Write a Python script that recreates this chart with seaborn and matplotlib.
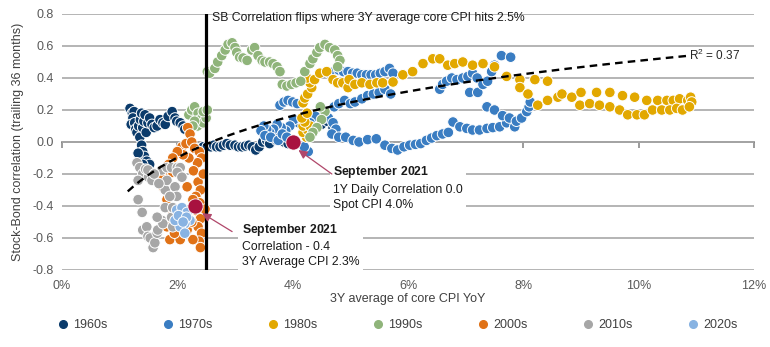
import numpy as np
import pandas as pd
import matplotlib
matplotlib.use("Agg")
import matplotlib.pyplot as plt
import seaborn as sns
from matplotlib.lines import Line2D

sns.set_theme(style="white")
plt.rcParams["font.family"] = ["Liberation Sans", "DejaVu Sans"]
plt.rcParams["mathtext.fontset"] = "custom"
plt.rcParams["mathtext.rm"] = "Liberation Sans"
plt.rcParams["mathtext.bf"] = "Liberation Sans:bold"

# ---- data: (3Y avg core CPI %, trailing 36m stock-bond correlation) ----
decades = ["1960s", "1970s", "1980s", "1990s", "2000s", "2010s", "2020s"]
decade_colors = ["#0b3b6b", "#3a7dc2", "#e2a800", "#8fb47a", "#e07217", "#a6a6a6", "#88b3e2"]

pts_1960s = [
    (1.18, 0.21), (1.22, 0.18), (1.25, 0.19), (1.23, 0.15), (1.20, 0.11), (1.26, 0.12),
    (1.28, 0.08), (1.30, 0.06), (1.33, 0.10), (1.35, 0.03), (1.36, 0.14), (1.38, 0.18),
    (1.40, 0.09), (1.42, 0.13), (1.44, 0.17), (1.46, 0.06), (1.49, 0.12), (1.52, 0.15),
    (1.56, 0.11), (1.60, 0.09), (1.65, 0.10), (1.70, 0.14), (1.75, 0.12), (1.79, 0.11),
    (1.84, 0.16), (1.91, 0.19), (1.96, 0.15), (1.99, 0.13), (2.05, 0.12), (2.10, 0.10),
    (2.13, 0.08), (1.38, -0.02), (1.40, -0.06), (1.35, -0.10), (1.43, -0.09), (1.47, -0.12),
    (1.52, -0.14), (1.40, -0.14), (1.32, -0.07), (2.45, -0.03), (2.52, -0.03), (2.58, -0.03),
    (2.63, -0.02), (2.68, -0.03), (2.74, -0.03), (2.80, -0.02), (2.86, -0.01), (2.92, -0.02),
    (3.00, -0.02), (3.06, -0.03), (3.12, -0.03), (3.18, -0.025), (3.24, -0.02), (3.30, -0.03),
    (3.36, -0.05), (3.42, -0.03), (3.48, 0.00), (3.55, 0.01), (3.60, -0.01), (3.66, 0.03),
    (3.72, 0.01), (3.78, 0.05), (3.85, 0.00), (3.92, -0.01), (4.50, 0.11), (4.60, 0.13),
    (4.70, 0.09),
]
pts_1970s = [
    (4.40, 0.16), (4.30, 0.12), (4.20, 0.09), (4.10, 0.12), (4.02, 0.14), (3.95, 0.10),
    (3.88, 0.07), (3.80, 0.09), (3.73, 0.11), (3.67, 0.08), (3.60, 0.06), (3.55, 0.08),
    (3.50, 0.10), (3.45, 0.07), (3.52, 0.04), (3.62, 0.03), (3.75, 0.01), (3.82, 0.05),
    (3.90, 0.03), (4.27, -0.06), (4.20, -0.03), (3.78, 0.23), (3.85, 0.25), (3.92, 0.26),
    (4.00, 0.25), (4.08, 0.24), (4.64, 0.43), (4.72, 0.44), (4.80, 0.45), (4.88, 0.44),
    (4.96, 0.44), (5.04, 0.43), (5.12, 0.43), (5.20, 0.42), (5.28, 0.42), (5.36, 0.42),
    (5.44, 0.42), (5.52, 0.43), (5.60, 0.44), (5.68, 0.46), (5.74, 0.43), (4.72, 0.22),
    (4.80, 0.24), (4.90, 0.26), (5.00, 0.24), (5.08, 0.25), (5.20, 0.27), (5.30, 0.29),
    (5.40, 0.30), (5.50, 0.31), (5.60, 0.33), (5.70, 0.30), (4.62, 0.15), (4.70, 0.12),
    (4.75, 0.08), (4.68, 0.05), (6.55, 0.33), (6.60, 0.36), (6.67, 0.38), (6.76, 0.40),
    (6.85, 0.39), (6.95, 0.40), (7.04, 0.41), (7.12, 0.43), (7.20, 0.40), (7.07, 0.31),
    (7.21, 0.31), (7.30, 0.36), (7.38, 0.38), (7.45, 0.44), (7.50, 0.48), (7.62, 0.54),
    (7.78, 0.53), (4.80, 0.03), (4.92, 0.03), (5.05, 0.01), (5.15, 0.00), (5.30, 0.015),
    (5.45, 0.02), (5.60, -0.02), (5.72, -0.04), (5.82, -0.05), (5.93, -0.03), (6.03, -0.02),
    (6.13, -0.015), (6.22, -0.01), (6.32, 0.01), (6.41, 0.025), (6.50, 0.04), (6.60, 0.05),
    (6.70, 0.06), (6.78, 0.125), (6.90, 0.095), (7.02, 0.085), (7.12, 0.075), (7.24, 0.075),
    (7.37, 0.085), (7.47, 0.09), (7.59, 0.095), (7.71, 0.12), (7.85, 0.095), (7.37, 0.22),
    (7.50, 0.20), (7.64, 0.165), (7.76, 0.15), (7.88, 0.13), (7.97, 0.15), (8.06, 0.19),
    (8.10, 0.22), (8.12, 0.25),
]
pts_1980s = [
    (4.24, 0.03), (4.18, 0.06), (4.26, 0.075), (4.18, 0.10), (4.30, 0.10), (4.21, 0.125),
    (4.16, 0.15), (4.25, 0.18), (4.18, 0.245), (4.21, 0.275), (4.26, 0.30), (4.33, 0.34),
    (4.30, 0.37), (4.25, 0.40), (4.38, 0.39), (4.47, 0.43), (4.59, 0.44), (4.70, 0.39),
    (4.78, 0.37), (4.87, 0.37), (4.96, 0.34), (4.98, 0.39), (5.08, 0.36), (5.20, 0.37),
    (5.34, 0.36), (5.46, 0.37), (5.56, 0.37), (5.74, 0.375), (5.91, 0.42), (6.08, 0.44),
    (6.26, 0.49), (6.43, 0.52), (6.55, 0.52), (6.69, 0.48), (6.81, 0.49), (6.95, 0.50),
    (7.12, 0.48), (7.30, 0.49), (7.50, 0.47), (7.71, 0.41), (7.94, 0.39), (7.94, 0.34),
    (8.08, 0.30), (8.25, 0.23), (8.42, 0.26), (8.20, 0.39), (8.42, 0.38), (8.60, 0.28),
    (8.67, 0.30), (8.84, 0.28), (9.00, 0.31), (9.27, 0.31), (9.50, 0.31), (9.72, 0.29),
    (9.93, 0.28), (10.14, 0.26), (10.33, 0.26), (10.49, 0.26), (10.60, 0.26), (10.71, 0.27),
    (10.85, 0.26), (10.90, 0.28), (10.92, 0.25), (8.98, 0.23), (9.15, 0.24), (9.32, 0.23),
    (9.50, 0.22), (9.67, 0.20), (9.81, 0.17), (9.97, 0.17), (10.10, 0.17), (10.24, 0.20),
    (10.40, 0.20), (10.54, 0.20), (10.66, 0.21), (10.76, 0.20), (10.88, 0.22),
]
pts_1990s = [
    (2.20, 0.17), (2.25, 0.20), (2.30, 0.22), (2.36, 0.18), (2.40, 0.14), (2.35, 0.10),
    (2.45, 0.12), (2.50, 0.15), (2.45, 0.19), (2.30, 0.13), (2.27, 0.10), (2.52, 0.20),
    (2.52, 0.44), (2.56, 0.43), (2.65, 0.46), (2.70, 0.50), (2.77, 0.54), (2.83, 0.575),
    (2.88, 0.61), (2.95, 0.62), (3.00, 0.59), (3.03, 0.56), (3.08, 0.53), (3.14, 0.525),
    (3.21, 0.51), (3.29, 0.575), (3.34, 0.59), (3.40, 0.54), (3.47, 0.51), (3.52, 0.50),
    (3.60, 0.50), (3.66, 0.49), (3.73, 0.47), (3.78, 0.44), (3.82, 0.36), (3.90, 0.35),
    (3.98, 0.36), (4.06, 0.37), (4.14, 0.38), (4.21, 0.44), (4.30, 0.49), (4.35, 0.52),
    (4.42, 0.56), (4.47, 0.59), (4.56, 0.61), (4.64, 0.59), (4.73, 0.575), (4.78, 0.54),
    (4.82, 0.51), (4.78, 0.47), (4.56, 0.19), (4.50, 0.14), (4.42, 0.09), (4.35, 0.06),
    (4.30, 0.03), (4.48, 0.22),
]
pts_2000s = [
    (2.18, 0.09), (2.22, 0.05), (2.08, -0.03), (2.15, -0.01), (2.25, 0.00), (2.30, -0.04),
    (2.38, -0.06), (2.42, -0.10), (2.35, -0.13), (2.20, -0.10), (2.10, -0.08), (2.00, -0.06),
    (1.92, -0.10), (1.85, -0.14), (1.78, -0.18), (1.72, -0.22), (1.92, -0.19), (2.28, -0.18),
    (2.36, -0.25), (2.40, -0.30), (2.32, -0.34), (2.39, -0.38), (2.34, -0.43), (2.40, -0.48),
    (2.36, -0.53), (2.42, -0.57), (2.38, -0.62), (2.40, -0.66), (2.27, -0.61), (2.17, -0.55),
    (2.25, -0.50), (1.92, -0.44), (1.82, -0.53), (1.87, -0.61), (2.05, -0.61), (1.95, -0.57),
    (1.82, -0.36), (1.75, -0.28), (2.17, -0.28), (2.27, -0.36), (2.45, -0.20), (2.48, -0.42),
]
pts_2010s = [
    (1.30, -0.13), (1.35, -0.16), (1.40, -0.20), (1.45, -0.17), (1.50, -0.22), (1.56, -0.24),
    (1.32, -0.24), (1.32, -0.36), (1.39, -0.44), (1.40, -0.55), (1.47, -0.53), (1.49, -0.59),
    (1.53, -0.60), (1.58, -0.66), (1.61, -0.63), (1.65, -0.57), (1.66, -0.55), (1.73, -0.49),
    (1.75, -0.51), (1.79, -0.41), (1.79, -0.30), (1.82, -0.24), (1.73, -0.175), (1.82, -0.16),
    (1.90, -0.16), (2.00, -0.16), (2.05, -0.16), (1.96, -0.28), (1.99, -0.34), (2.00, -0.19),
    (2.08, -0.22), (1.90, -0.47), (1.92, -0.53), (1.65, -0.47), (1.49, -0.175), (1.87, -0.34),
    (1.92, -0.41), (1.60, -0.20), (1.68, -0.26),
]
pts_2020s = [
    (1.99, -0.425), (2.08, -0.41), (2.17, -0.44), (2.22, -0.49), (2.13, -0.51), (2.05, -0.53),
    (1.96, -0.49), (2.08, -0.47), (2.13, -0.57), (2.02, -0.46), (2.16, -0.47), (2.10, -0.50),
]
decade_points = [pts_1960s, pts_1970s, pts_1980s, pts_1990s, pts_2000s, pts_2010s, pts_2020s]

# September 2021 highlights
sep21_3y = (2.3, -0.4)     # 3Y average CPI 2.3%, correlation -0.4
sep21_spot = (4.0, 0.0)    # spot CPI 4.0%, 1Y daily correlation 0.0

# log trend fit: corr = a + b * ln(cpi)
trend_a, trend_b = -0.358, 0.376
trend_span = (1.14, 10.85)
r_squared = 0.37
flip_level = 2.5

x_ticks = [0, 2, 4, 6, 8, 10, 12]
y_ticks = [-0.8, -0.6, -0.4, -0.2, 0.0, 0.2, 0.4, 0.6, 0.8]

# ---- build a long table ----
rows = []
for dec, pts in zip(decades, decade_points):
    for cx, cy in pts:
        rows.append({"cpi": cx, "corr": cy, "decade": dec})
df = pd.DataFrame(rows)

fig = plt.figure(figsize=(7.7, 3.47), dpi=100)
ax = fig.add_axes([62 / 770, 1 - 270 / 347, 692 / 770, 256 / 347])

sns.scatterplot(data=df, x="cpi", y="corr", hue="decade", hue_order=decades,
                palette=decade_colors, s=58, edgecolor="white", linewidth=0.7,
                legend=False, ax=ax, zorder=3)

# trend line
tx = np.linspace(trend_span[0], trend_span[1], 200)
ax.plot(tx, trend_a + trend_b * np.log(tx), color="black", lw=1.7,
        dashes=(3.2, 2.2), zorder=4)
ax.text(trend_span[1] + 0.02, trend_a + trend_b * np.log(trend_span[1]),
        f"R$^{{2}}$ = {r_squared:.2f}", fontsize=8.5, color="#262626",
        va="center", ha="left", zorder=6)

# regime line
ax.axvline(flip_level, color="black", lw=2.3, zorder=5)
ax.text(flip_level + 0.1, 0.775,
        f"SB Correlation flips where 3Y average core CPI hits {flip_level}%",
        fontsize=8.8, color="#1a1a1a", va="center", ha="left", zorder=6)

# highlighted points
hl_color = "#a8123f"
arrow_color = "#b0476a"
for p in (sep21_3y, sep21_spot):
    ax.scatter([p[0]], [p[1]], s=120, color=hl_color, edgecolor="white",
               linewidth=0.6, zorder=7)

ax.annotate("", xy=(sep21_3y[0] + 0.13, sep21_3y[1] - 0.045),
            xytext=(sep21_3y[0] + 0.65, sep21_3y[1] - 0.16),
            arrowprops=dict(arrowstyle="-|>", color=arrow_color, lw=0.9,
                            mutation_scale=13, shrinkA=0, shrinkB=0), zorder=8)
ax.annotate("", xy=(sep21_spot[0] + 0.1, sep21_spot[1] - 0.05),
            xytext=(sep21_spot[0] + 0.68, sep21_spot[1] - 0.2),
            arrowprops=dict(arrowstyle="-|>", color=arrow_color, lw=0.9,
                            mutation_scale=13, shrinkA=0, shrinkB=0), zorder=8)

box = dict(facecolor="white", edgecolor="none", pad=2.5)
ax.text(sep21_3y[0] + 0.82, sep21_3y[1] - 0.1,
        r"$\mathbf{September\ 2021}$" + f"\nCorrelation - {abs(sep21_3y[1]):.1f}\n"
        f"3Y Average CPI {sep21_3y[0]:.1f}%",
        fontsize=8.8, color="#1a1a1a", va="top", ha="left", linespacing=1.35,
        bbox=box, zorder=6)
ax.text(sep21_spot[0] + 0.7, sep21_spot[1] - 0.14,
        r"$\mathbf{September\ 2021}$" + f"\n1Y Daily Correlation {sep21_spot[1]:.1f}\n"
        f"Spot CPI {sep21_spot[0]:.1f}%",
        fontsize=8.8, color="#1a1a1a", va="top", ha="left", linespacing=1.35,
        bbox=box, zorder=6)

# axes styling
ax.set_xlim(0, 12)
ax.set_ylim(-0.8, 0.8)
ax.set_yticks(y_ticks)
ax.set_yticklabels([f"{v:.1f}" for v in y_ticks])
ax.set_xticks(x_ticks)
ax.set_xticklabels([f"{v}%" for v in x_ticks])
ax.tick_params(axis="both", length=0, labelsize=9, colors="#595959")
ax.tick_params(axis="x", pad=7)
ax.tick_params(axis="y", pad=6)
for s in ax.spines.values():
    s.set_visible(False)
ax.yaxis.grid(True, color="#a8a8a8", lw=1.2, zorder=0)
ax.xaxis.grid(False)
ax.set_axisbelow(True)

# zero axis with tick marks
zero_ax = ax.secondary_xaxis(0.5)
zero_ax.set_xticks(x_ticks)
zero_ax.xaxis.set_ticks_position("bottom")
zero_ax.tick_params(axis="x", direction="out", length=4, width=1.1, color="#808080",
                    labelbottom=False, labeltop=False)
for name, s in zero_ax.spines.items():
    s.set_visible(name == "bottom")
zero_ax.spines["bottom"].set_color("#808080")
zero_ax.spines["bottom"].set_linewidth(1.2)

ax.set_xlabel("3Y average of core CPI YoY", fontsize=9, color="#404040", labelpad=1)
ax.set_ylabel("Stock-Bond correlation (trailing 36 months)", fontsize=9,
              color="#404040", labelpad=6)

handles = [Line2D([0], [0], marker="o", linestyle="none", markersize=5.5,
                  markerfacecolor=c, markeredgecolor=c) for c in decade_colors]
fig.legend(handles, decades, loc="center left", bbox_to_anchor=(48 / 770, 1 - 325 / 347),
           ncol=7, frameon=False, fontsize=9, handlelength=0.6, handletextpad=0.5,
           columnspacing=4.55, labelcolor="#404040")

fig.savefig("out.png", dpi=100)
